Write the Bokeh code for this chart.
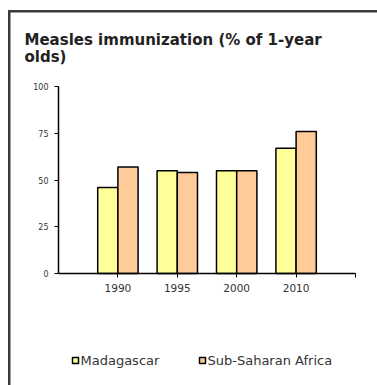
from bokeh.plotting import figure
from bokeh.models import ColumnDataSource, FixedTicker, Label, Range1d
from bokeh.embed import file_html
from bokeh.resources import INLINE

# Data
years = ["1990", "1995", "2000", "2010"]
madagascar = [46, 55, 55, 67]
sub_saharan = [57, 54, 55, 76]
y_ticks = [0, 25, 50, 75, 100]
series_names = ["Madagascar", "Sub-Saharan Africa"]
title_lines = ["Measles immunization (% of 1-year", "olds)"]

W, H = 377, 385
AX_L, AX_R, AX_T, AX_B = 58, 355, 86, 273  # axis box in canvas pixels
N_SLOTS = len(years) + 1
YMAX = 100

YELLOW = "#FFFF99"
ORANGE = "#FFCC99"
FONT = "DejaVu Sans"

# the plotting frame covers the whole canvas; axes are pinned inside it
ux = (AX_R - AX_L) / N_SLOTS
uy = (AX_B - AX_T) / YMAX
x_range = Range1d(-AX_L / ux, N_SLOTS + (W - AX_R) / ux)
y_range = Range1d(-(H - AX_B) / uy, YMAX + AX_T / uy)


def dx(px):
    """canvas column -> data x"""
    return (px - AX_L) / ux


def dy(py):
    """canvas row (from top) -> data y"""
    return (AX_B - py) / uy


def sy(py):
    """canvas row (from top) -> screen units (from bottom)"""
    return H - py


pos = list(range(1, len(years) + 1))
bw = 0.34
src = ColumnDataSource(dict(
    x_mad=[p_ - bw / 2 for p_ in pos],
    x_ssa=[p_ + bw / 2 for p_ in pos],
    mad=madagascar,
    ssa=sub_saharan,
))

p = figure(width=W, height=H, output_backend="svg", toolbar_location=None,
           x_range=x_range, y_range=y_range, min_border=0)
p.outline_line_color = None
p.background_fill_color = "white"
p.border_fill_color = "white"
p.xgrid.visible = False
p.ygrid.visible = False

p.vbar(x="x_mad", top="mad", width=bw, bottom=0, source=src,
       fill_color=YELLOW, line_color="black", line_width=1.5)
p.vbar(x="x_ssa", top="ssa", width=bw, bottom=0, source=src,
       fill_color=ORANGE, line_color="black", line_width=1.5)

# axes
p.yaxis.fixed_location = 0
p.yaxis.bounds = (0, YMAX)
p.yaxis.ticker = FixedTicker(ticks=y_ticks)
p.yaxis.axis_line_color = "black"
p.yaxis.axis_line_width = 1.5
p.yaxis.major_tick_line_color = "black"
p.yaxis.major_tick_out = 4
p.yaxis.major_tick_in = 0
p.yaxis.minor_tick_line_color = None
p.yaxis.major_label_text_font = FONT
p.yaxis.major_label_text_font_size = "8px"
p.yaxis.major_label_text_color = "#333333"
p.yaxis.major_label_standoff = 6

p.xaxis.fixed_location = 0
p.xaxis.bounds = (0, N_SLOTS)
p.xaxis.ticker = FixedTicker(ticks=pos + [N_SLOTS])
p.xaxis.major_label_overrides = {**{p_: y for p_, y in zip(pos, years)}, N_SLOTS: ""}
p.xaxis.axis_line_color = "black"
p.xaxis.axis_line_width = 1.5
p.xaxis.major_tick_line_color = "black"
p.xaxis.major_tick_out = 4
p.xaxis.major_tick_in = 0
p.xaxis.minor_tick_line_color = None
p.xaxis.major_label_text_font = FONT
p.xaxis.major_label_text_font_size = "10.5px"
p.xaxis.major_label_text_color = "#333333"
p.xaxis.major_label_standoff = 6

# title
for line, base in zip(title_lines, [39, 56]):
    p.add_layout(Label(x=24, y=sy(base), x_units="screen", y_units="screen",
                       text=line, text_font=FONT, text_font_style="bold",
                       text_font_size="15px", text_color="#222222",
                       text_baseline="alphabetic"))

# legend: small outlined swatches with their names
leg_x = [72, 199]
fills = [YELLOW, ORANGE]
p.quad(left=[dx(lx) for lx in leg_x], right=[dx(lx + 6) for lx in leg_x],
       top=[dy(357)] * 2, bottom=[dy(363)] * 2,
       fill_color=fills, line_color="black", line_width=1.5)
for lx, name in zip(leg_x, series_names):
    p.add_layout(Label(x=lx + 8, y=sy(360), x_units="screen", y_units="screen",
                       text=name, text_font=FONT, text_font_size="13px",
                       text_color="#333333", text_baseline="middle"))

# outer frame: only its left and top edges fall on the canvas
p.quad(left=[dx(7.5), dx(7.5)], right=[dx(10), dx(W + 10)],
       top=[dy(9.5), dy(9.5)], bottom=[dy(H + 10), dy(12)],
       fill_color="#3a3a3a", line_color=None)

open("out.html", "w").write(file_html(p, INLINE))
